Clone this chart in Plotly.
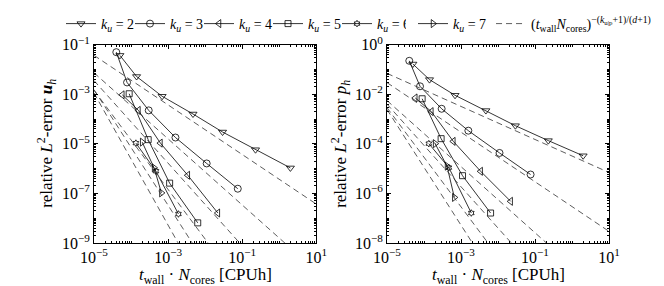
import plotly.graph_objects as go

# ---------------- data ----------------
k_values = [2, 3, 4, 5, 6, 7]

t_k2 = [5.0e-5, 1.41e-4, 6.9e-4, 4.7e-3, 2.95e-2, 0.229, 2.0]
u_k2 = [3.7e-2, 5.2e-3, 8.3e-4, 1.6e-4, 3.0e-5, 5.8e-6, 1.07e-6]
p_k2 = [0.166, 3.9e-2, 9.1e-3, 2.2e-3, 5.4e-4, 1.35e-4, 3.3e-5]

t_k3 = [4.0e-5, 7.8e-5, 3.0e-4, 1.58e-3, 1.1e-2, 7.6e-2]
u_k3 = [5.0e-2, 3.0e-3, 2.24e-4, 1.8e-5, 1.62e-6, 1.55e-7]
p_k3 = [0.224, 2.1e-2, 2.6e-3, 3.4e-4, 4.3e-5, 5.8e-6]

t_k4 = [5.8e-5, 1.58e-4, 6.2e-4, 3.4e-3, 2.2e-2]
u_k4 = [9.5e-4, 2.24e-4, 1.07e-5, 5.4e-7, 1.62e-8]
p_k4 = [7.1e-3, 2.0e-3, 1.26e-4, 7.8e-6, 4.8e-7]

t_k5 = [8.9e-5, 2.9e-4, 1.1e-3, 6.3e-3]
u_k5 = [1.05e-3, 1.48e-5, 2.6e-7, 6.5e-9]
p_k5 = [6.6e-3, 1.62e-4, 5.2e-6, 1.62e-7]

t_k6 = [1.35e-4, 4.7e-4, 1.9e-3]
u_k6 = [1.07e-5, 7.9e-7, 1.48e-8]
p_k6 = [1.02e-4, 1.1e-5, 1.62e-7]

t_k7 = [2.0e-4, 4.2e-4, 6.6e-4]
u_k7 = [1.17e-5, 1.07e-6, 1.05e-7]
p_k7 = [1.02e-4, 1.26e-5, 6.9e-7]

# reference rate lines: err = C * t^(-(k+1)/(d+1)),  d = 2
d_dim = 2
log10_C_u = [-6.43, -8.80, -10.78, -12.84, -14.48, -16.28]
log10_C_p = [-4.49, -6.53, -8.92, -10.73, -12.54, -14.28]
t_line = [1e-5, 1e1]

x_tickvals = [1e-5, 1e-3, 1e-1, 1e1]
x_ticktext = ["10<sup>−5</sup>", "10<sup>−3</sup>", "10<sup>−1</sup>", "10<sup>1</sup>"]
yu_tickvals = [1e-1, 1e-3, 1e-5, 1e-7, 1e-9]
yu_ticktext = ["10<sup>−1</sup>", "10<sup>−3</sup>", "10<sup>−5</sup>", "10<sup>−7</sup>", "10<sup>−9</sup>"]
yp_tickvals = [1e0, 1e-2, 1e-4, 1e-6, 1e-8]
yp_ticktext = ["10<sup>0</sup>", "10<sup>−2</sup>", "10<sup>−4</sup>", "10<sup>−6</sup>", "10<sup>−8</sup>"]

x_title = "<i>t</i><sub>wall</sub> · <i>N</i><sub>cores</sub> [CPUh]"
yu_title = "relative <i>L</i><sup>2</sup>-error <b><i>u</i></b><sub><i>h</i></sub>"
yp_title = "relative <i>L</i><sup>2</sup>-error <i>p</i><sub><i>h</i></sub>"
rate_label = ("(<i>t</i><sub>wall</sub><i>N</i><sub>cores</sub>)"
              "<sup>−(<i>k</i><sub>u|p</sub>+1)/(<i>d</i>+1)</sup>")

# ---------------- figure ----------------
series_t = [t_k2, t_k3, t_k4, t_k5, t_k6, t_k7]
series_u = [u_k2, u_k3, u_k4, u_k5, u_k6, u_k7]
series_p = [p_k2, p_k3, p_k4, p_k5, p_k6, p_k7]
symbols = ["triangle-down-open", "circle-open", "triangle-left-open",
           "square-open", "hexagram-open", "triangle-right-open"]
msizes = [7, 7, 7, 6, 5, 7]

FONT = "Liberation Serif"
fig = go.Figure()

for i, k in enumerate(k_values):
    mk = dict(symbol=symbols[i], size=msizes[i], color="black",
              line=dict(width=0.8, color="black"))
    fig.add_trace(go.Scatter(
        x=series_t[i], y=series_u[i], mode="lines+markers",
        line=dict(color="black", width=0.8), marker=mk,
        name=f"<i>k<sub>u</sub></i> = {k}",
        legend="legend" if k < 7 else "legend2",
        xaxis="x", yaxis="y"))
    fig.add_trace(go.Scatter(
        x=series_t[i], y=series_p[i], mode="lines+markers",
        line=dict(color="black", width=0.8), marker=mk,
        showlegend=False, xaxis="x2", yaxis="y2"))

# dashed reference lines
for i, k in enumerate(k_values):
    ru = (k + 1) / (d_dim + 1)
    rp = k / (d_dim + 1)
    Cu = 10 ** log10_C_u[i]
    Cp = 10 ** log10_C_p[i]
    fig.add_trace(go.Scatter(
        x=t_line, y=[Cu * t ** (-ru) for t in t_line], mode="lines",
        line=dict(color="#333333", width=0.8, dash="6px,4px"),
        xaxis="x", yaxis="y", showlegend=(i == 0), legend="legend2",
        name=rate_label, hoverinfo="skip"))
    fig.add_trace(go.Scatter(
        x=t_line, y=[Cp * t ** (-rp) for t in t_line], mode="lines",
        line=dict(color="#333333", width=0.8, dash="6px,4px"),
        xaxis="x2", yaxis="y2", showlegend=False, hoverinfo="skip"))

W, H = 664, 286
xl = [86 / W, 308.3 / W]
xr = [379 / W, 601 / W]
yd = [(H - 235) / H, (H - 36.7) / H]

minor_x = []
for e in range(-5, 1):
    for m in range(2, 10):
        minor_x.append(m * 10 ** e)
for e in range(-4, 1):
    minor_x.append(10 ** e)


def minor_y(lo, hi):
    vals = []
    for e in range(lo, hi):
        for m in range(1, 10):
            vals.append(m * 10 ** e)
    return vals


axis_common = dict(
    type="log", showgrid=False, zeroline=False, showline=True, automargin=False,
    linecolor="black", linewidth=0.8, mirror="allticks", ticks="inside",
    ticklen=4, tickwidth=0.6, tickcolor="black",
    tickfont=dict(family=FONT, size=16, color="black"),
)
TFONT = dict(family=FONT, size=17, color="black")
minor_common = dict(ticks="inside", ticklen=2, tickwidth=0.5,
                    tickcolor="black", showgrid=False)

ymid = 1 - (36.7 + 235) / 2 / H
annotations = [
    dict(text=x_title, x=(xl[0] + xl[1]) / 2, y=1 - 268 / H, xref="paper", yref="paper",
         xanchor="center", yanchor="middle", showarrow=False, font=TFONT),
    dict(text=x_title, x=(xr[0] + xr[1]) / 2, y=1 - 268 / H, xref="paper", yref="paper",
         xanchor="center", yanchor="middle", showarrow=False, font=TFONT),
    dict(text=yu_title, x=39 / W, y=ymid, xref="paper", yref="paper", textangle=-90,
         xanchor="center", yanchor="middle", showarrow=False, font=TFONT),
    dict(text=yp_title, x=333 / W, y=ymid, xref="paper", yref="paper", textangle=-90,
         xanchor="center", yanchor="middle", showarrow=False, font=TFONT),
]

legend_common = dict(orientation="h", yanchor="top", y=1.0,
                     font=dict(family=FONT, size=14, color="black"),
                     bgcolor="rgba(0,0,0,0)", itemwidth=30, tracegroupgap=0,
                     traceorder="normal")

fig.update_layout(
    width=W, height=H, margin=dict(l=0, r=0, t=0, b=0, autoexpand=False),
    paper_bgcolor="white", plot_bgcolor="white",
    font=dict(family=FONT, color="black"),
    xaxis=dict(**axis_common, domain=xl, range=[-5, 1], anchor="y",
               tickvals=x_tickvals, ticktext=x_ticktext,
               minor=dict(tickvals=minor_x, **minor_common)),
    yaxis=dict(**axis_common, domain=yd, range=[-9, -1], anchor="x",
               tickvals=yu_tickvals, ticktext=yu_ticktext,
               minor=dict(tickvals=minor_y(-9, -1), **minor_common)),
    xaxis2=dict(**axis_common, domain=xr, range=[-5, 1], anchor="y2",
                tickvals=x_tickvals, ticktext=x_ticktext,
                minor=dict(tickvals=minor_x, **minor_common)),
    yaxis2=dict(**axis_common, domain=yd, range=[-8, 0], anchor="x2",
                tickvals=yp_tickvals, ticktext=yp_ticktext,
                minor=dict(tickvals=minor_y(-8, 0), **minor_common)),
    annotations=annotations,
    legend=dict(**legend_common, x=53 / W, xanchor="left",
                entrywidth=24, entrywidthmode="pixels"),
    legend2=dict(**legend_common, x=405 / W, xanchor="left"),
)

fig.write_html("out.html")
